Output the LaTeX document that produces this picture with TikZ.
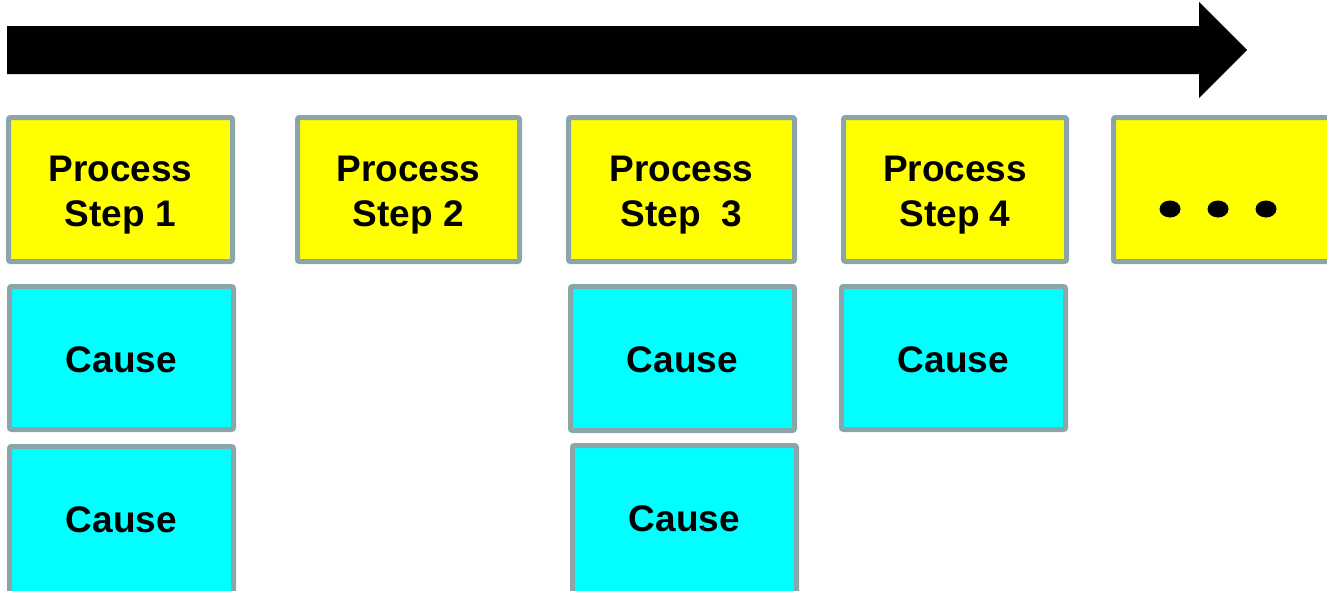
\documentclass[tikz,border=0pt]{standalone}
\usepackage{fontspec}
\setmainfont{Liberation Sans}
\definecolor{frame}{RGB}{140,165,168}
\definecolor{stepfill}{RGB}{255,255,0}
\definecolor{causefill}{RGB}{0,255,255}
\tikzset{
  box/.style={rectangle, draw=frame, line width=5pt, rounded corners=2pt,
    inner sep=0pt, minimum width=224pt, font=\bfseries\fontsize{37}{45}\selectfont},
  stepbox/.style={box, fill=stepfill, minimum height=144pt},
  causebox/.style={box, fill=causefill, minimum height=143pt, text height=29pt},
  steptext/.style={inner sep=0pt, align=center, font=\bfseries\fontsize{37}{45}\selectfont},
  dot/.style={fill=black, draw=none}
}
\begin{document}
\begin{tikzpicture}[x=1pt, y=-1pt]
  \useasboundingbox (0,0) rectangle (1327,590);
  \clip (0,0) rectangle (1327,590);

  % timeline arrow
  \fill[black] (7,26) -- (1199,26) -- (1199,2) -- (1247,50) -- (1199,98)
    -- (1199,74) -- (7,74) -- cycle;

  % process steps
  \node[stepbox, minimum width=224pt] (s1) at (120.5,189.5) {};
  \node[stepbox, minimum width=222pt] (s2) at (408.5,189.5) {};
  \node[stepbox, minimum width=226pt] (s3) at (681.5,189.5) {};
  \node[stepbox, minimum width=223pt] (s4) at (955,189.5) {};
  \node[stepbox, minimum width=224pt] (s5) at (1225.5,189.5) {};

  \node[steptext] (t1) at ([yshift=-6pt]s1.center) {Process\\Step 1};
  \node[steptext] (t2) at ([yshift=-6pt]s2.center) {Process\\Step 2};
  \node[steptext] (t3) at ([yshift=-6pt]s3.center) {Process\\Step\ \ 3};
  \node[steptext] (t4) at ([yshift=-6pt]s4.center) {Process\\Step 4};

  % ellipsis in the last step
  \fill[dot] ([shift={(-55.5,19.5)}]s5.center) ellipse [x radius=10.5, y radius=8.5];
  \fill[dot] ([shift={(-7.5,19.5)}]s5.center) ellipse [x radius=10.5, y radius=8.5];
  \fill[dot] ([shift={(40.5,19.5)}]s5.center) ellipse [x radius=10.5, y radius=8.5];

  % causes
  \node[causebox] (c1a) at (121.5,358) {Cause};
  \node[causebox, minimum height=150pt, text depth=7pt] (c1b) at (121.5,521.5) {Cause};
  \node[causebox, minimum height=144pt] (c3a) at (682.5,358.5) {Cause};
  \node[causebox, minimum height=150pt, text depth=7pt] (c3b) at (684.5,520.5) {Cause};
  \node[causebox] (c4) at (953.5,358) {Cause};
\end{tikzpicture}
\end{document}
